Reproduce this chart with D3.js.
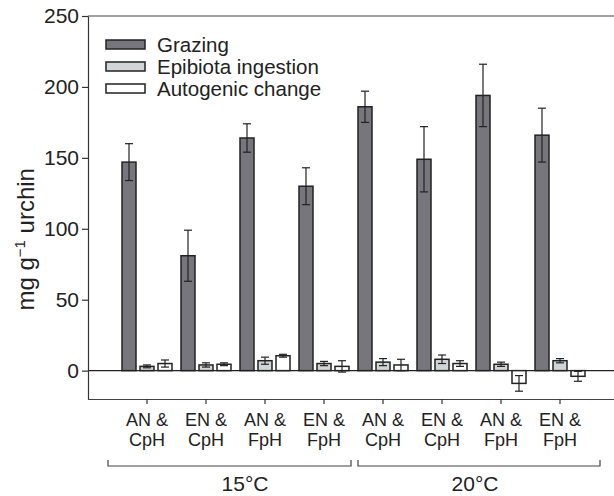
<!DOCTYPE html>
<html>
<head>
<meta charset="utf-8">
<script src="https://cdn.jsdelivr.net/npm/d3@7"></script>
<style>
  body { margin: 0; background: #fff; }
  text { font-family: "Liberation Sans", Arial, sans-serif; fill: #222; }
</style>
</head>
<body>
<div id="chart"></div>
<script>
  const categories = ['15AN_CpH', '15EN_CpH', '15AN_FpH', '15EN_FpH', '20AN_CpH', '20EN_CpH', '20AN_FpH', '20EN_FpH'];
  const catLine1 = ['AN &', 'EN &', 'AN &', 'EN &', 'AN &', 'EN &', 'AN &', 'EN &'];
  const catLine2 = ['CpH', 'CpH', 'FpH', 'FpH', 'CpH', 'CpH', 'FpH', 'FpH'];
  const seriesNames = ['Grazing', 'Epibiota ingestion', 'Autogenic change'];
  const grazing = [147, 81, 164, 130, 186, 149, 194, 166];
  const grazingErr = [13, 18, 10, 13, 11, 23, 22, 19];
  const epibiota = [3, 4, 7, 5, 6, 8, 4.5, 7];
  const epibiotaErr = [1, 1.5, 2.5, 1.5, 2.5, 3, 1.5, 1.5];
  const autogenic = [5, 4.5, 10.5, 3, 4, 5, -9, -4];
  const autogenicErr = [2.5, 1, 1, 4, 4, 2, 5.5, 3.5];
  const yTicks = [0, 50, 100, 150, 200, 250];
  const groups = ['15°C', '20°C'];

  const colors = ['#77767c', '#d2d5d7', '#ffffff'];
  const width = 614;
  const height = 496;
  const margin = { top: 16, bottom: 97, left: 88, right: -5 };

  const svg = d3.select('#chart')
    .append('svg')
    .attr('width', width)
    .attr('height', height);

  const x = d3.scaleBand()
    .domain(categories)
    .range([margin.left, width - margin.right])
    .paddingInner(0)
    .paddingOuter(0.5);

  const y = d3.scaleLinear()
    .domain([-20, 250])
    .range([height - margin.bottom, margin.top]);

  const series = [
    { values: grazing, err: grazingErr },
    { values: epibiota, err: epibiotaErr },
    { values: autogenic, err: autogenicErr }
  ];
  const barW = 14;
  const barStep = 18;

  // frame lines
  svg.append('line')
    .attr('x1', margin.left).attr('x2', width)
    .attr('y1', y(250)).attr('y2', y(250))
    .attr('stroke', '#444').attr('stroke-width', 1.2);
  svg.append('line')
    .attr('x1', margin.left).attr('x2', width)
    .attr('y1', y(0)).attr('y2', y(0))
    .attr('stroke', '#222').attr('stroke-width', 1.2);

  // bars
  series.forEach((s, si) => {
    const g = svg.append('g');
    const data = categories.map((c, i) => ({ c, v: s.values[i], e: s.err[i] }));
    g.selectAll('rect')
      .data(data)
      .join('rect')
        .attr('x', d => x(d.c) + x.bandwidth() / 2 + (si - 1) * barStep - barW / 2)
        .attr('y', d => y(Math.max(0, d.v)))
        .attr('width', barW)
        .attr('height', d => Math.abs(y(0) - y(d.v)))
        .attr('fill', colors[si])
        .attr('stroke', '#222')
        .attr('stroke-width', 1.5);
    const eb = g.selectAll('g.err')
      .data(data)
      .join('g')
      .attr('class', 'err')
      .attr('stroke', '#222')
      .attr('stroke-width', 1.2);
    const cx = d => x(d.c) + x.bandwidth() / 2 + (si - 1) * barStep;
    eb.append('line')
      .attr('x1', cx).attr('x2', cx)
      .attr('y1', d => y(d.v - d.e)).attr('y2', d => y(d.v + d.e));
    eb.append('line')
      .attr('x1', d => cx(d) - 4).attr('x2', d => cx(d) + 4)
      .attr('y1', d => y(d.v + d.e)).attr('y2', d => y(d.v + d.e));
    eb.append('line')
      .attr('x1', d => cx(d) - 4).attr('x2', d => cx(d) + 4)
      .attr('y1', d => y(d.v - d.e)).attr('y2', d => y(d.v - d.e));
  });

  // y axis
  const yAxis = svg.append('g')
    .attr('transform', `translate(${margin.left},0)`)
    .call(d3.axisLeft(y).tickValues(yTicks).tickSize(6).tickPadding(3).tickSizeOuter(0));
  yAxis.select('.domain').attr('stroke', '#333').attr('stroke-width', 1.2);
  yAxis.selectAll('.tick line').attr('stroke', '#333').attr('stroke-width', 1.2);
  yAxis.selectAll('.tick text').attr('font-size', '21px').attr('fill', '#222')
    .style('font-family', '"Liberation Sans", Arial, sans-serif');

  // x axis
  const xAxis = svg.append('g')
    .attr('transform', `translate(0,${y(-20)})`)
    .call(d3.axisBottom(x).tickSize(5).tickSizeOuter(0).tickFormat(''));
  xAxis.select('.domain').attr('stroke', '#444').attr('stroke-width', 1.2)
    .attr('d', `M${margin.left},0.5H${width}`);
  xAxis.selectAll('.tick line').attr('stroke', '#333').attr('stroke-width', 1.2);
  xAxis.selectAll('.tick')
    .append('text')
    .attr('y', 27).attr('text-anchor', 'middle')
    .attr('font-size', '18px')
    .text((d, i) => catLine1[i]);
  xAxis.selectAll('.tick')
    .append('text')
    .attr('y', 47).attr('text-anchor', 'middle')
    .attr('font-size', '18px')
    .text((d, i) => catLine2[i]);

  // group brackets
  const bracketY = 466;
  const grp = [
    { name: groups[0], x0: 108, x1: 351, tx: 245 },
    { name: groups[1], x0: 358, x1: 600, tx: 475 }
  ];
  grp.forEach(b => {
    svg.append('path')
      .attr('d', `M${b.x0},${bracketY - 6}V${bracketY}H${b.x1}V${bracketY - 6}`)
      .attr('fill', 'none').attr('stroke', '#444').attr('stroke-width', 1.2);
    svg.append('text')
      .attr('x', b.tx).attr('y', 491)
      .attr('text-anchor', 'middle')
      .attr('font-size', '21px')
      .text(b.name);
  });

  // y label
  const yl = svg.append('text')
    .attr('transform', `translate(34,${(y(0) + y(250)) / 2 + 46}) rotate(-90)`)
    .attr('text-anchor', 'middle')
    .attr('font-size', '24px');
  yl.append('tspan').text('mg g');
  yl.append('tspan').attr('dy', -9).attr('font-size', '15px').text('\u22121');
  yl.append('tspan').attr('dy', 9).text(' urchin');

  // legend
  const legend = svg.append('g').attr('transform', 'translate(106,40)');
  seriesNames.forEach((n, i) => {
    legend.append('rect')
      .attr('x', 0).attr('y', i * 22)
      .attr('width', 39).attr('height', 9)
      .attr('fill', colors[i]).attr('stroke', '#222').attr('stroke-width', 1.5);
    legend.append('text')
      .attr('x', 51).attr('y', i * 22 + 12)
      .attr('font-size', '20.5px')
      .text(n);
  });
</script>
</body>
</html>
